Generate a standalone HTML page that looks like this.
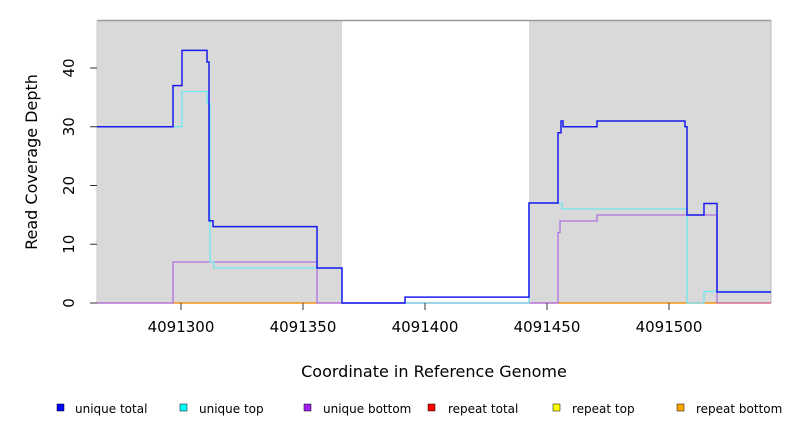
<!DOCTYPE html>
<html><head><style>body{margin:0;background:#fff}</style></head><body>
<svg width="792" height="432" xmlns="http://www.w3.org/2000/svg" font-family="DejaVu Sans, Liberation Sans, sans-serif">
<rect x="97" y="20" width="245" height="283" fill="#d9d9d9"/>
<rect x="529" y="20" width="242" height="283" fill="#d9d9d9"/>
<line x1="97" y1="20.5" x2="771" y2="20.5" stroke="#999" stroke-width="1.5"/>
<line x1="771" y1="20" x2="771" y2="303" stroke="#bbb"/>
<line x1="97" y1="20" x2="97" y2="303" stroke="#ccc"/>
<g fill="none" stroke-width="1.3">
<polyline stroke="#d0507a" points="97,303 771,303"/>
<polyline stroke="#ff9900" points="173,303 317,303"/>
<polyline stroke="#ff9900" points="558,303 717,303"/>
<polyline stroke="#b070e0" points="97,303 173,303 173,262 317,262 317,303 558,303 558,232.5 560,232.5 560,221 597,221 597,215 717,215 717,303"/>
<polyline stroke="#70e8f0" points="97,126.7 182,126.7 182,91.5 207,91.5 207,103 210,103 210,262 214,262 214,268 317,268 342,268 342,303 529,303 529,203 562,203 562,209 687,209 687,303 704,303 704,291.5 771,291.5"/>
<polyline stroke="#1a1aee" stroke-width="1.5" points="97,126.7 173,126.7 173,85.6 182,85.6 182,50.4 207,50.4 207,62 209,62 209,220.7 213,220.7 213,226.6 317,226.6 317,268 342,268 342,303 405,303 405,297.1 529,297.1 529,203 558,203 558,132.7 561,132.7 561,121 563,121 563,126.7 597,126.7 597,121 685,121 685,126.7 687,126.7 687,215 704,215 704,203.5 717,203.5 717,292 771,292"/>
</g>
<g stroke="#333" stroke-width="1">
<line x1="97" y1="303" x2="90" y2="303"/><line x1="97" y1="244.25" x2="90" y2="244.25"/><line x1="97" y1="185.5" x2="90" y2="185.5"/><line x1="97" y1="126.75" x2="90" y2="126.75"/><line x1="97" y1="68" x2="90" y2="68"/>
<line x1="181" y1="303" x2="181" y2="310"/><line x1="303" y1="303" x2="303" y2="310"/><line x1="425" y1="303" x2="425" y2="310"/><line x1="547" y1="303" x2="547" y2="310"/><line x1="669" y1="303" x2="669" y2="310"/>
</g>
<g font-size="15" fill="#000" text-anchor="middle">
<text transform="translate(74,303) rotate(-90)">0</text>
<text transform="translate(74,244.25) rotate(-90)">10</text>
<text transform="translate(74,185.5) rotate(-90)">20</text>
<text transform="translate(74,126.75) rotate(-90)">30</text>
<text transform="translate(74,68) rotate(-90)">40</text>
<text x="181" y="332">4091300</text><text x="303" y="332">4091350</text><text x="425" y="332">4091400</text><text x="547" y="332">4091450</text><text x="669" y="332">4091500</text>
<text x="434" y="377" font-size="16">Coordinate in Reference Genome</text>
<text transform="translate(37,162) rotate(-90)" font-size="16">Read Coverage Depth</text>
</g>
<g font-size="12" fill="#000" stroke="#000" stroke-width="0.5">
<rect x="57" y="404" width="7" height="7" fill="#0000ff"/><text x="75" y="413" stroke="none">unique total</text>
<rect x="180" y="404" width="7" height="7" fill="#00ffff"/><text x="199" y="413" stroke="none">unique top</text>
<rect x="304" y="404" width="7" height="7" fill="#a020f0"/><text x="323" y="413" stroke="none">unique bottom</text>
<rect x="428" y="404" width="7" height="7" fill="#ff0000"/><text x="448" y="413" stroke="none">repeat total</text>
<rect x="553" y="404" width="7" height="7" fill="#ffff00"/><text x="572" y="413" stroke="none">repeat top</text>
<rect x="677" y="404" width="7" height="7" fill="#ffa500"/><text x="696" y="413" stroke="none">repeat bottom</text>
</g>
</svg>
</body></html>
